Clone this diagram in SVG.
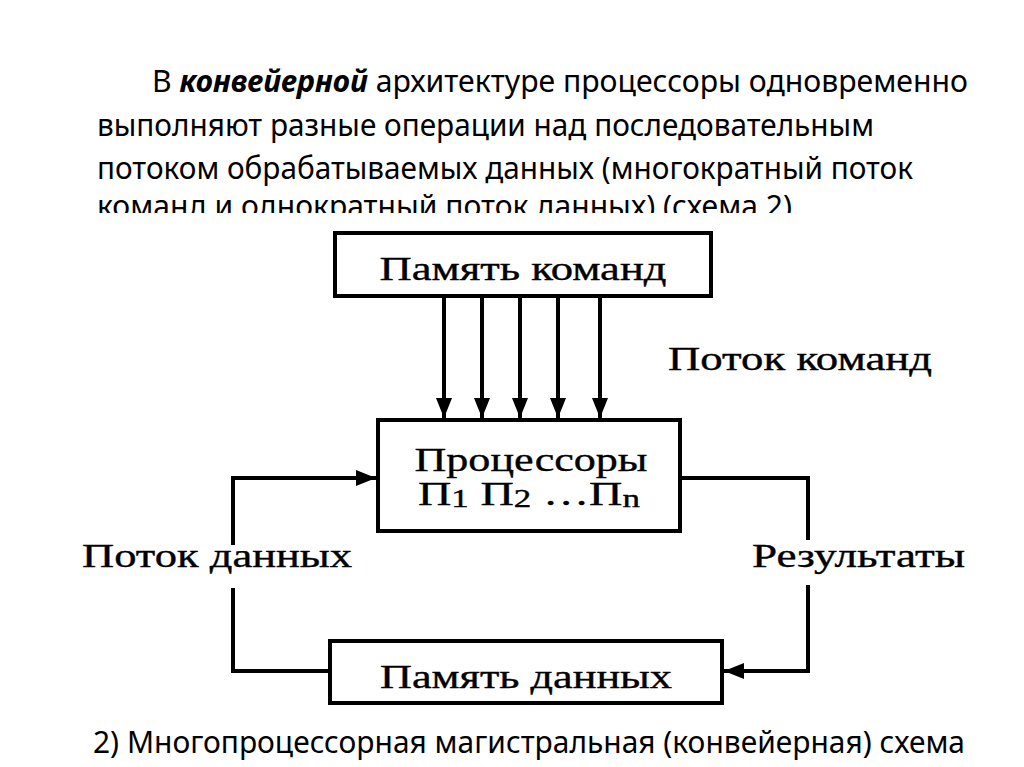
<svg xmlns="http://www.w3.org/2000/svg" width="1024" height="767" viewBox="0 0 1024 767">
<style>
.para{font-family:"Noto Sans","Liberation Sans",sans-serif;font-size:30px;fill:#000}
.lbl{font-family:"Liberation Serif","Times New Roman",serif;font-size:33px;fill:#000;stroke:#000;stroke-width:0.35}
.box{fill:#fff;stroke:#000;stroke-width:4}
.ln{fill:none;stroke:#000;stroke-width:4}
</style>
<defs>
<marker id="ah" viewBox="0 0 20 16" refX="20" refY="8" markerWidth="20" markerHeight="16" markerUnits="userSpaceOnUse" orient="auto">
<path d="M0,0 L20,8 L0,16 Z" fill="#000"/>
</marker>
<clipPath id="clipPara"><rect x="0" y="0" width="1024" height="213"/></clipPath>
</defs>
<rect width="1024" height="767" fill="#fff"/>
<g id="paragraph" clip-path="url(#clipPara)">
<text class="para" x="152" y="92" textLength="816" lengthAdjust="spacingAndGlyphs">В <tspan font-weight="bold" font-style="italic">конвейерной</tspan> архитектуре процессоры одновременно</text>
<text class="para" x="97" y="136" textLength="777" lengthAdjust="spacingAndGlyphs">выполняют разные операции над последовательным</text>
<text class="para" x="97" y="179" textLength="816" lengthAdjust="spacingAndGlyphs">потоком обрабатываемых данных (многократный поток</text>
<text class="para" x="97" y="217" textLength="703" lengthAdjust="spacingAndGlyphs">команд и однократный поток данных) (схема 2).</text>
</g>
<g id="connectors">
<line class="ln" x1="444" y1="296" x2="444" y2="418" marker-end="url(#ah)"/>
<line class="ln" x1="482" y1="296" x2="482" y2="418" marker-end="url(#ah)"/>
<line class="ln" x1="520" y1="296" x2="520" y2="418" marker-end="url(#ah)"/>
<line class="ln" x1="558" y1="296" x2="558" y2="418" marker-end="url(#ah)"/>
<line class="ln" x1="600" y1="296" x2="600" y2="418" marker-end="url(#ah)"/>
<path class="ln" d="M233,545 V478 H376" marker-end="url(#ah)"/>
<path class="ln" d="M680,478 H808 V540"/>
<path class="ln" d="M233,588 V671 H330"/>
<path class="ln" d="M808,585 V671 H724" marker-end="url(#ah)"/>
</g>
<g id="node-cmdmem">
<rect class="box" x="335" y="233" width="376" height="63"/>
<text class="lbl" x="523" y="280" text-anchor="middle" textLength="287" lengthAdjust="spacingAndGlyphs">Память команд</text>
</g>
<g id="label-cmdflow">
<text class="lbl" x="668" y="370" textLength="264" lengthAdjust="spacingAndGlyphs">Поток команд</text>
</g>
<g id="node-proc">
<rect class="box" x="378" y="420" width="302" height="111"/>
<text class="lbl" x="531" y="471" text-anchor="middle" textLength="233" lengthAdjust="spacingAndGlyphs">Процессоры</text>
<text class="lbl" x="418" y="505" font-size="38" textLength="222" lengthAdjust="spacingAndGlyphs">П<tspan font-size="25" dy="2">1</tspan><tspan dy="-2"> П</tspan><tspan font-size="25" dy="2">2</tspan><tspan dy="-2"> …П</tspan><tspan font-size="25" dy="2">n</tspan></text>
</g>
<g id="label-dataflow">
<text class="lbl" x="82" y="567" textLength="270" lengthAdjust="spacingAndGlyphs">Поток данных</text>
</g>
<g id="label-results">
<text class="lbl" x="752" y="567" textLength="213" lengthAdjust="spacingAndGlyphs">Результаты</text>
</g>
<g id="node-datamem">
<rect class="box" x="330" y="641" width="392" height="62"/>
<text class="lbl" x="526" y="688" text-anchor="middle" textLength="292" lengthAdjust="spacingAndGlyphs">Память данных</text>
</g>
<g id="caption">
<text class="para" x="93" y="753" textLength="872" lengthAdjust="spacingAndGlyphs">2) Многопроцессорная магистральная (конвейерная) схема</text>
</g>
</svg>
